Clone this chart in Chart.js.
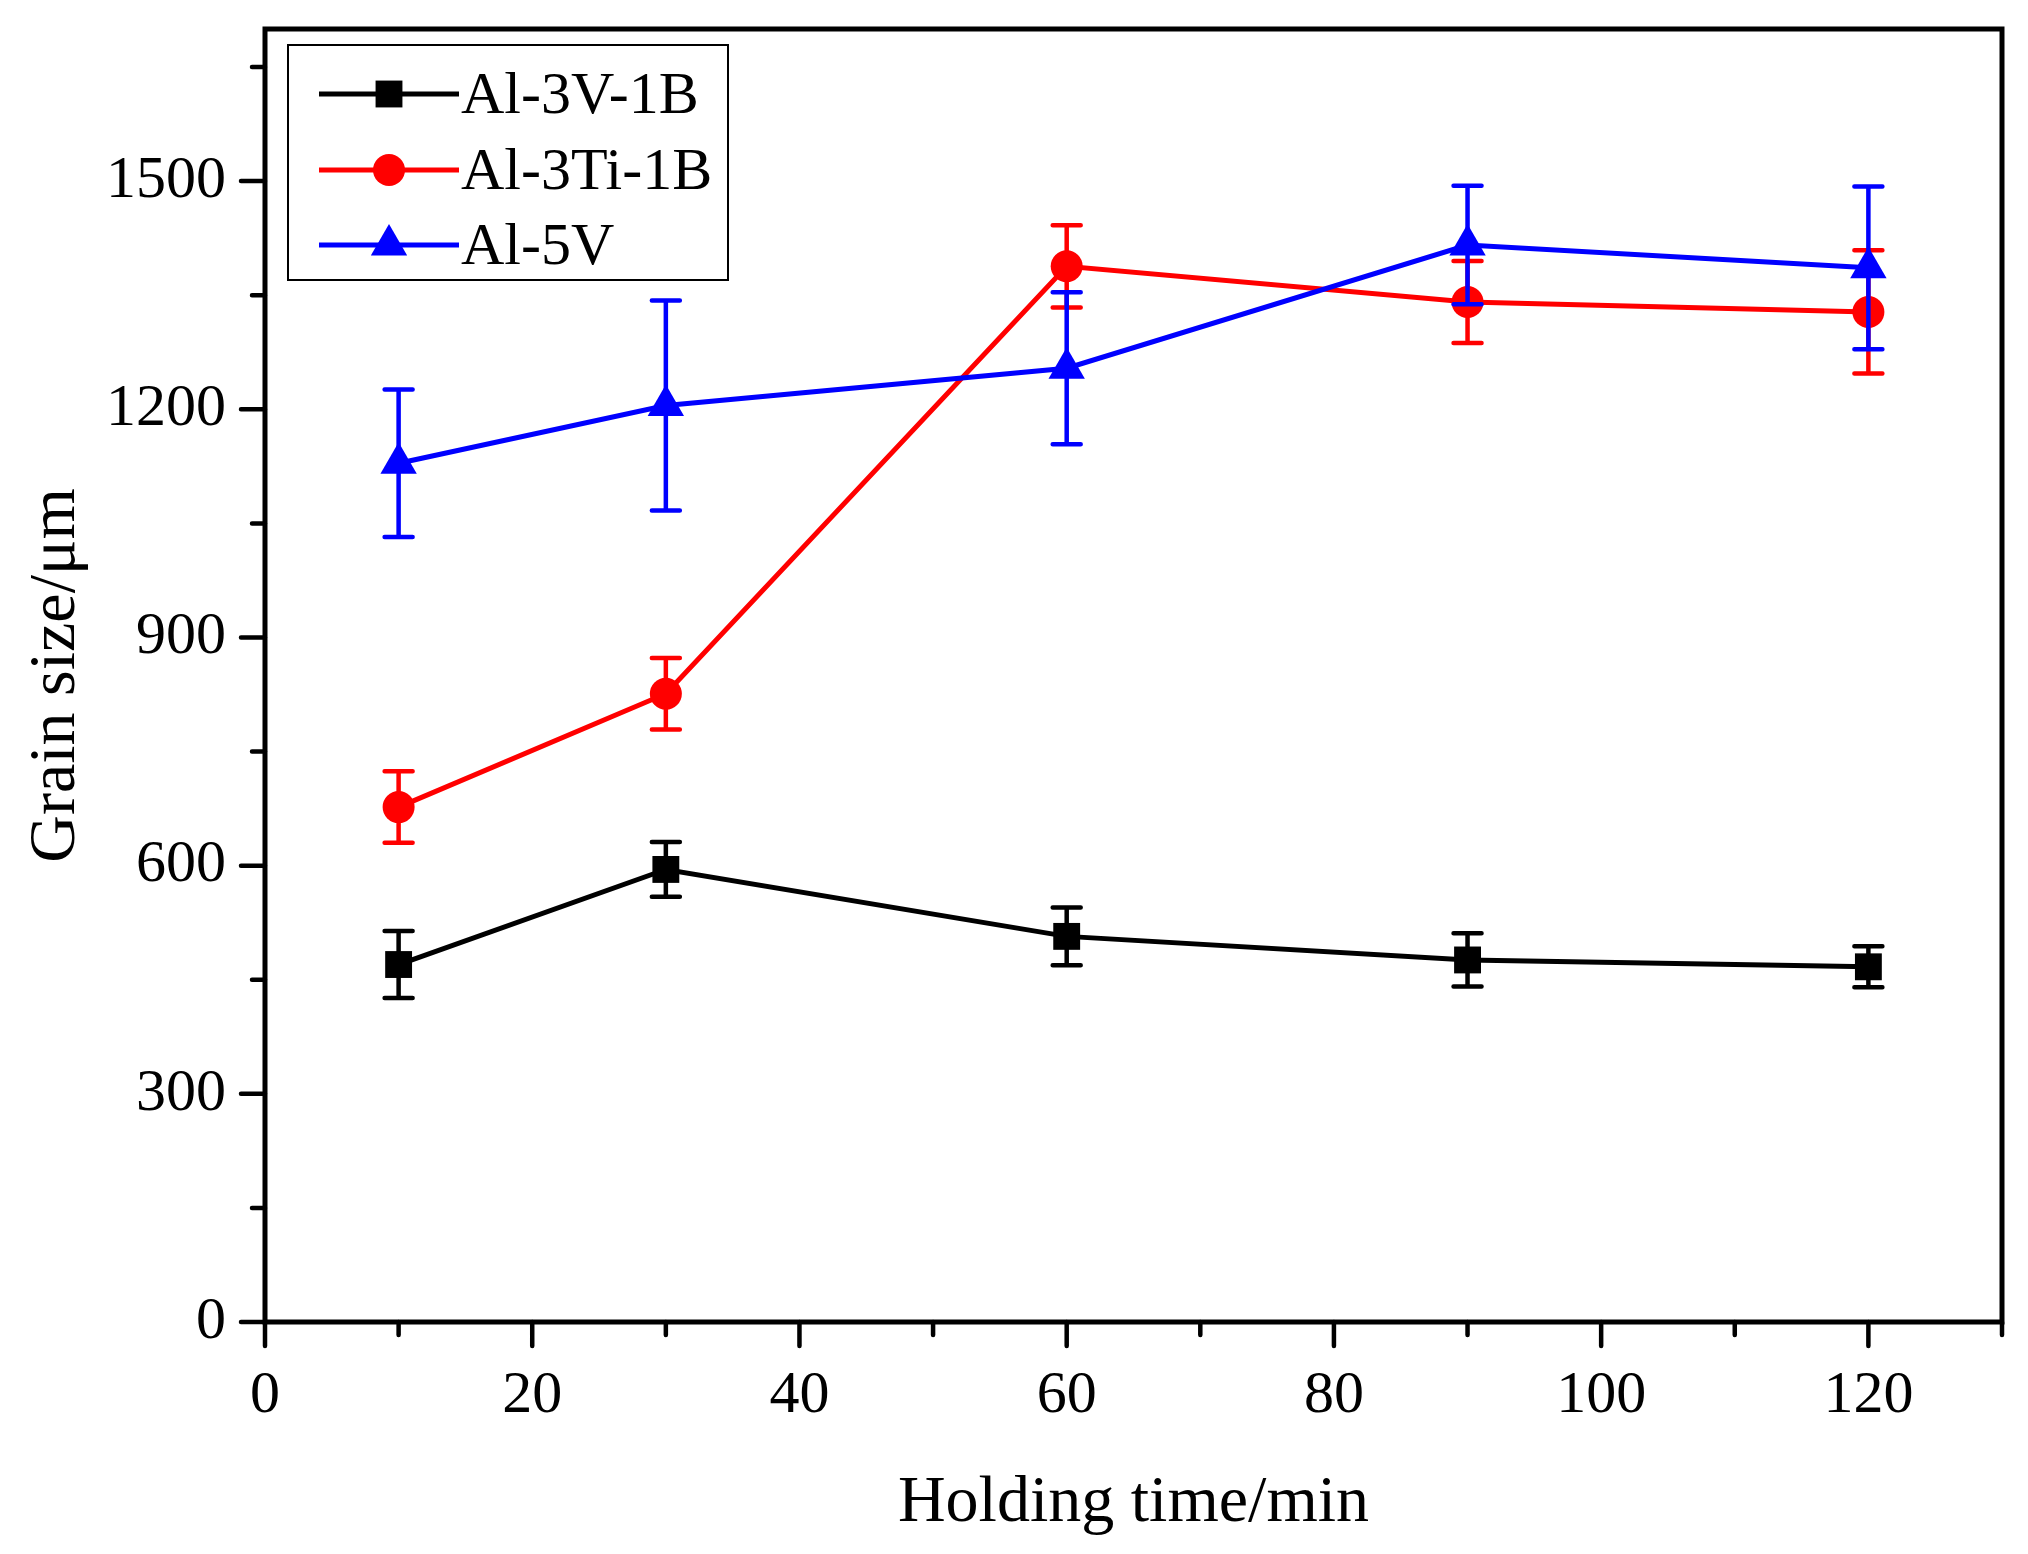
<!DOCTYPE html>
<html>
<head>
<meta charset="utf-8">
<script src="https://cdn.jsdelivr.net/npm/chart.js@4.4.1/dist/chart.umd.min.js"></script>
<style>
html,body{margin:0;padding:0;background:#fff;}
#wrap{width:2028px;height:1554px;position:relative;}
</style>
</head>
<body>
<div id="wrap"><canvas id="c"></canvas></div>
<script>
// data
const holdTimes  = [10, 30, 60, 90, 120];
const seriesNames = ['Al-3V-1B', 'Al-3Ti-1B', 'Al-5V'];
const grainV1B   = [470, 595, 507, 476, 467];
const errV1B     = [44, 36, 38, 35, 27];
const grainTi1B  = [677, 826, 1388, 1341, 1328];
const errTi1B    = [47, 47, 54, 54, 81];
const grain5V    = [1129, 1205, 1254, 1416, 1386];
const err5V      = [97, 138, 100, 78, 107];

const xTicks = [0, 20, 40, 60, 80, 100, 120];
const xMinor = [10, 30, 50, 70, 90, 110, 130];
const yTicks = [0, 300, 600, 900, 1200, 1500];
const yMinor = [150, 450, 750, 1050, 1350, 1650];

const FONT = "'Liberation Serif', 'Times New Roman', serif";

const pts = ys => holdTimes.map((x,i)=>({x, y:ys[i]}));

function mkSet(i, ys, errs, color, style, r, order){
  return {
    label: seriesNames[i], data: pts(ys), errors: errs,
    borderColor: color, backgroundColor: color, borderWidth: 5,
    pointStyle: style, pointRadius: r, pointHoverRadius: r, pointBorderWidth: 0,
    pointBackgroundColor: color, tension: 0, fill: false, order
  };
}

// error bars, frame, tick marks and legend
const decor = {
  id: 'decor',
  beforeDatasetDraw(chart, args){
    const ds = chart.data.datasets[args.index];
    const {ctx, scales:{x, y}} = chart;
    ctx.save();
    ctx.strokeStyle = ds.borderColor; ctx.lineWidth = 4.5; ctx.lineCap = 'round';
    ds.data.forEach((p, i) => {
      const e = ds.errors[i];
      const px = x.getPixelForValue(p.x);
      const t = y.getPixelForValue(p.y + e), b = y.getPixelForValue(p.y - e);
      ctx.beginPath();
      ctx.moveTo(px, t); ctx.lineTo(px, b);
      ctx.moveTo(px - 14, t); ctx.lineTo(px + 14, t);
      ctx.moveTo(px - 14, b); ctx.lineTo(px + 14, b);
      ctx.stroke();
    });
    ctx.restore();
  },
  afterDraw(chart){
    const {ctx, chartArea:a, scales:{x, y}} = chart;
    ctx.save();
    ctx.strokeStyle = '#000'; ctx.lineWidth = 5; ctx.lineCap = 'round';
    ctx.strokeRect(a.left, a.top, a.right - a.left, a.bottom - a.top);
    ctx.lineWidth = 4.5;
    ctx.beginPath();
    xTicks.forEach(v => { const p = x.getPixelForValue(v); ctx.moveTo(p, a.bottom); ctx.lineTo(p, a.bottom + 24); });
    xMinor.forEach(v => { const p = x.getPixelForValue(v); ctx.moveTo(p, a.bottom); ctx.lineTo(p, a.bottom + 13); });
    yTicks.forEach(v => { const p = y.getPixelForValue(v); ctx.moveTo(a.left, p); ctx.lineTo(a.left - 24, p); });
    yMinor.forEach(v => { const p = y.getPixelForValue(v); ctx.moveTo(a.left, p); ctx.lineTo(a.left - 13, p); });
    ctx.stroke();

    // legend
    const box = {l: 288, t: 45, r: 728, b: 280};
    ctx.lineWidth = 2; ctx.lineCap = 'butt';
    ctx.strokeRect(box.l, box.t, box.r - box.l, box.b - box.t);
    const rows = [94, 170, 245];
    ctx.font = '60px ' + FONT;
    ctx.textBaseline = 'middle'; ctx.textAlign = 'left';
    chart.data.datasets.forEach((ds, k) => {
      const yy = rows[k];
      ctx.strokeStyle = ds.borderColor; ctx.lineWidth = 5;
      ctx.beginPath(); ctx.moveTo(319, yy); ctx.lineTo(459, yy); ctx.stroke();
      ctx.fillStyle = ds.backgroundColor;
      Chart.helpers.drawPoint(ctx, {pointStyle: ds.pointStyle, radius: ds.pointRadius, rotation: 0, borderWidth: 0}, 389, yy);
      ctx.fillStyle = '#000';
      ctx.fillText(ds.label, 461, yy + 3);
    });
    ctx.restore();
  }
};

new Chart(document.getElementById('c'), {
  type: 'line',
  data: {
    datasets: [
      mkSet(0, grainV1B, errV1B, '#000000', 'rect', 19, 3),
      mkSet(1, grainTi1B, errTi1B, '#ff0000', 'circle', 16, 2),
      mkSet(2, grain5V, err5V, '#0000ff', 'triangle', 21, 1)
    ]
  },
  options: {
    responsive: true, maintainAspectRatio: false, animation: false,
    layout: {padding: {top: 29, right: 26, left: 0, bottom: 0}},
    plugins: {legend: {display: false}, tooltip: {enabled: false}},
    scales: {
      x: {
        type: 'linear', min: 0, max: 130,
        afterFit: s => { s.height = 232; s.paddingLeft = 0; s.paddingRight = 0; },
        afterBuildTicks: s => { s.ticks = xTicks.map(v => ({value: v})); },
        grid: {display: true, drawOnChartArea: false, drawTicks: true, tickLength: 24, color: 'rgba(0,0,0,0)'},
        border: {display: false},
        ticks: {color: '#000', padding: 14, maxRotation: 0, callback: v => String(v), font: {family: FONT, size: 60}},
        title: {display: true, text: 'Holding time/min', color: '#000', padding: {top: 0, bottom: 11}, font: {family: FONT, size: 66}}
      },
      y: {
        type: 'linear', min: 0, max: 1700,
        afterFit: s => { s.width = 265; s.paddingTop = 0; s.paddingBottom = 0; },
        afterBuildTicks: s => { s.ticks = yTicks.map(v => ({value: v})); },
        grid: {display: true, drawOnChartArea: false, drawTicks: true, tickLength: 24, color: 'rgba(0,0,0,0)'},
        border: {display: false},
        ticks: {color: '#000', padding: 15, callback: v => String(v), font: {family: FONT, size: 60}},
        title: {display: true, text: 'Grain size/μm', color: '#000', padding: {top: 17, bottom: 0}, font: {family: FONT, size: 66}}
      }
    }
  },
  plugins: [decor]
});
</script>
</body>
</html>
